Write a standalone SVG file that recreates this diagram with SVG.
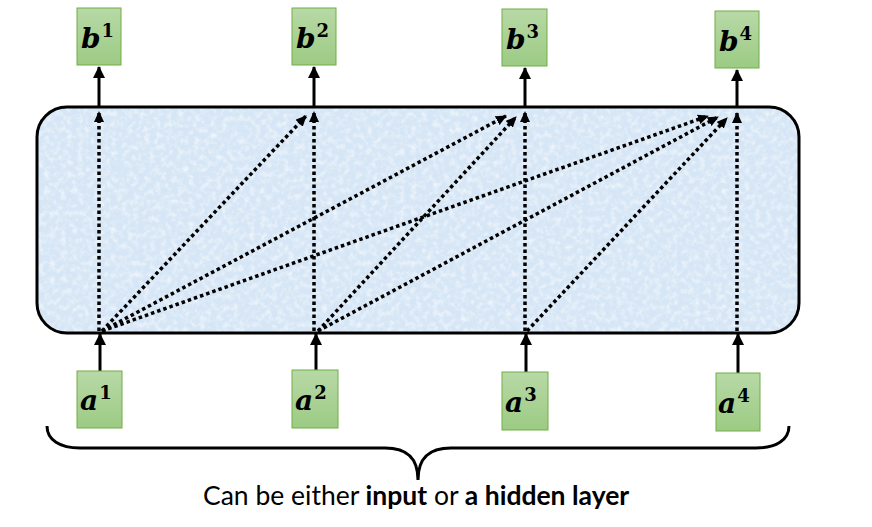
<svg xmlns="http://www.w3.org/2000/svg" width="872" height="527" viewBox="0 0 872 527">
<style>
.node rect{fill:url(#g);stroke:#70ad47;stroke-width:1}
.lbl{font-family:"DejaVu Serif",serif;font-weight:bold;font-style:italic;font-size:28px;fill:#000}
.sup{font-style:normal;font-size:18px}
.solid{stroke:#000;stroke-width:3;fill:none}
.dot{stroke:#000;stroke-width:3.5;stroke-dasharray:3.5 3;fill:none}
.cap{font-family:Lato,"Open Sans",sans-serif;font-size:26.5px;fill:#000}
</style>
<defs>
<linearGradient id="g" x1="0" y1="0" x2="0" y2="1">
<stop offset="0" stop-color="#b8d9a6"/>
<stop offset="1" stop-color="#9ccb84"/>
</linearGradient>
<marker id="ah" markerUnits="userSpaceOnUse" markerWidth="12" markerHeight="12" viewBox="0 0 12 12" refX="11" refY="6" orient="auto">
<path d="M0,0 L12,6 L0,12 Z" fill="#000"/>
</marker>
<marker id="ad" markerUnits="userSpaceOnUse" markerWidth="11" markerHeight="10" viewBox="0 0 11 10" refX="10" refY="5" orient="auto">
<path d="M0,0 L11,5 L0,10 Z" fill="#000"/>
</marker>
<filter id="tex" x="0" y="0" width="100%" height="100%">
<feTurbulence type="fractalNoise" baseFrequency="0.18" numOctaves="3" seed="5" result="n"/>
<feColorMatrix in="n" type="matrix" values="0 0 0 0 1  0 0 0 0 1  0 0 0 0 1  0 0 0 1.2 -0.5" result="w"/>
<feComposite in="w" in2="SourceGraphic" operator="in" result="wc"/>
<feMerge><feMergeNode in="SourceGraphic"/><feMergeNode in="wc"/></feMerge>
</filter>
</defs>
<g id="layer">
<rect x="37" y="107" width="762" height="226" rx="30" fill="#d6e6f6" filter="url(#tex)"/>
<rect x="37" y="107" width="762" height="226" rx="30" fill="none" stroke="#000" stroke-width="3"/>
</g>
<g id="connectors">
<line class="solid" x1="99" y1="106" x2="99" y2="67" marker-end="url(#ah)"/>
<line class="solid" x1="314" y1="106" x2="314" y2="67" marker-end="url(#ah)"/>
<line class="solid" x1="525" y1="106" x2="525" y2="68" marker-end="url(#ah)"/>
<line class="solid" x1="737" y1="106" x2="737" y2="70" marker-end="url(#ah)"/>
<line class="solid" x1="100" y1="371" x2="100" y2="334" marker-end="url(#ah)"/>
<line class="solid" x1="316" y1="370" x2="316" y2="334" marker-end="url(#ah)"/>
<line class="solid" x1="526" y1="372" x2="526" y2="334" marker-end="url(#ah)"/>
<line class="solid" x1="738" y1="373" x2="738" y2="334" marker-end="url(#ah)"/>
<line class="dot" x1="99" y1="331" x2="99" y2="112" marker-end="url(#ad)"/>
<line class="dot" x1="102" y1="331" x2="306" y2="116" marker-end="url(#ad)"/>
<line class="dot" x1="102" y1="331" x2="506" y2="116" marker-end="url(#ad)"/>
<line class="dot" x1="102" y1="331" x2="708" y2="116" marker-end="url(#ad)"/>
<line class="dot" x1="314" y1="331" x2="314" y2="112" marker-end="url(#ad)"/>
<line class="dot" x1="318" y1="331" x2="516" y2="117" marker-end="url(#ad)"/>
<line class="dot" x1="318" y1="331" x2="718" y2="117" marker-end="url(#ad)"/>
<line class="dot" x1="525" y1="331" x2="525" y2="112" marker-end="url(#ad)"/>
<line class="dot" x1="527" y1="331" x2="727" y2="118" marker-end="url(#ad)"/>
<line class="dot" x1="737" y1="331" x2="737" y2="113" marker-end="url(#ad)"/>
</g>
<g id="b1" class="node"><rect x="77" y="8" width="44" height="57"/><text class="lbl" x="81" y="48">b<tspan class="sup" dx="1" dy="-11">1</tspan></text></g>
<g id="b2" class="node"><rect x="292" y="8" width="44" height="57"/><text class="lbl" x="296" y="48">b<tspan class="sup" dx="1" dy="-11">2</tspan></text></g>
<g id="b3" class="node"><rect x="502" y="9" width="45" height="57"/><text class="lbl" x="506" y="49">b<tspan class="sup" dx="1" dy="-11">3</tspan></text></g>
<g id="b4" class="node"><rect x="715" y="11" width="44" height="57"/><text class="lbl" x="719" y="51">b<tspan class="sup" dx="1" dy="-11">4</tspan></text></g>
<g id="a1" class="node"><rect x="77" y="371" width="45" height="57"/><text class="lbl" x="80" y="410">a<tspan class="sup" dx="1" dy="-11">1</tspan></text></g>
<g id="a2" class="node"><rect x="292" y="370" width="46" height="58"/><text class="lbl" x="295" y="410">a<tspan class="sup" dx="1" dy="-11">2</tspan></text></g>
<g id="a3" class="node"><rect x="502" y="372" width="46" height="58"/><text class="lbl" x="505" y="412">a<tspan class="sup" dx="1" dy="-11">3</tspan></text></g>
<g id="a4" class="node"><rect x="716" y="373" width="44" height="58"/><text class="lbl" x="718" y="413">a<tspan class="sup" dx="1" dy="-11">4</tspan></text></g>
<g id="brace">
<path class="solid" d="M47,426 C47,440 60,448 80,448 L385,448 C405,448 418,456 418,480 C418,456 431,448 451,448 L756,448 C776,448 789,440 789,426"/>
<text class="cap" x="203" y="505">Can be either <tspan font-weight="bold">input</tspan> or <tspan font-weight="bold">a hidden layer</tspan></text>
</g>
</svg>
